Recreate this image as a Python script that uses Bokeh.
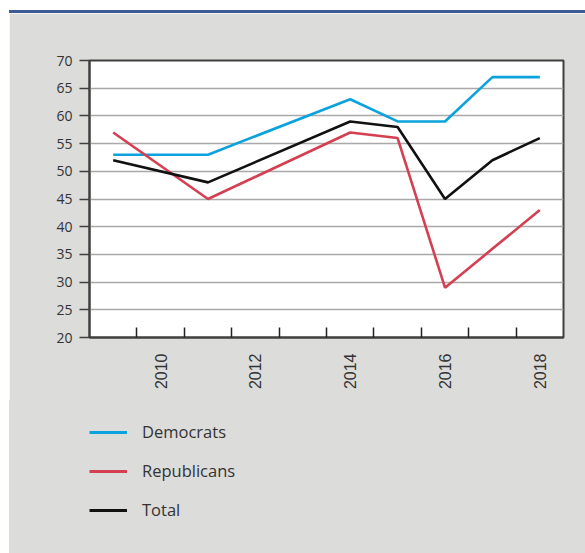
import math

from bokeh.embed import file_html
from bokeh.layouts import column
from bokeh.models import Div, FixedTicker, Legend, LegendItem, Range1d
from bokeh.plotting import figure
from bokeh.resources import INLINE

# Share of respondents (%) by party, per survey year
years = [2009, 2011, 2014, 2015, 2016, 2017, 2018]
democrats = [53, 53, 63, 59, 59, 67, 67]
republicans = [57, 45, 57, 56, 29, 36, 43]
total = [52, 48, 59, 58, 45, 52, 56]

series_names = ["Democrats", "Republicans", "Total"]
series_colors = ["#0ba2dd", "#d43f51", "#111111"]

label_years = [2010, 2012, 2014, 2016, 2018]
y_ticks = [20, 25, 30, 35, 40, 45, 50, 55, 60, 65, 70]

GRAY = "#dcdcdb"
AXIS = "#3f3f3f"
TEXT = "#333333"

# ---- main chart -------------------------------------------------------
p = figure(
    width=576, height=387,
    x_range=Range1d(2008.5, 2018.5),
    y_range=Range1d(20, 70),
    output_backend="svg",
    toolbar_location=None,
    min_border_left=80, min_border_right=22,
    min_border_top=47, min_border_bottom=63,
    background_fill_color="white",
    border_fill_color=GRAY,
    outline_line_color=AXIS,
    outline_line_width=2,
)
p.margin = (0, 0, 0, 9)

# x axis: year labels at category centres, small inward ticks at boundaries
xa = p.xaxis[0]
xa.ticker = FixedTicker(ticks=label_years,
                        minor_ticks=[y + 0.5 for y in range(2009, 2018)])
xa.major_tick_in = 0
xa.major_tick_out = 0
xa.minor_tick_in = 10
xa.minor_tick_out = 0
xa.minor_tick_line_color = "#222222"
xa.minor_tick_line_width = 1.5
xa.major_label_orientation = math.pi / 2
xa.major_label_standoff = 16
xa.major_label_text_font = "Liberation Sans"
xa.major_label_text_font_size = "16px"
xa.major_label_text_color = TEXT
xa.axis_line_color = AXIS
xa.axis_line_width = 2

ya = p.yaxis[0]
ya.ticker = FixedTicker(ticks=y_ticks)
ya.major_tick_in = 0
ya.major_tick_out = 10
ya.major_tick_line_color = AXIS
ya.major_tick_line_width = 1.5
ya.minor_tick_line_color = None
ya.major_label_standoff = 7
ya.major_label_text_font = "Open Sans"
ya.major_label_text_font_size = "14px"
ya.major_label_text_color = TEXT
ya.axis_line_color = AXIS
ya.axis_line_width = 2

p.xgrid.visible = False
p.ygrid.ticker = FixedTicker(ticks=y_ticks)
p.ygrid.grid_line_color = "#a9a9a9"
p.ygrid.grid_line_width = 1.5

for vals, color in zip([democrats, republicans, total], series_colors):
    p.line(years, vals, line_color=color, line_width=2.6)

# ---- legend panel below the chart ------------------------------------
lp = figure(
    width=576, height=153,
    output_backend="svg",
    toolbar_location=None,
    x_axis_type=None, y_axis_type=None,
    min_border=0,
    background_fill_alpha=0,
    border_fill_alpha=0,
    outline_line_color=None,
)
lp.margin = (0, 0, 0, 9)
lp.styles = {"background-color": GRAY}
lp.xgrid.visible = False
lp.ygrid.visible = False

items = []
for name, color in zip(series_names, series_colors):
    # single-point line: nothing drawn in the panel, only the legend swatch
    r = lp.line([0], [0], line_color=color, line_width=3)
    items.append(LegendItem(label=name, renderers=[r]))

legend = Legend(
    items=items,
    location=(0, 32),
    orientation="vertical",
    glyph_width=38, glyph_height=20,
    label_height=20, label_standoff=15,
    spacing=16, padding=0, margin=0,
    border_line_color=None,
    background_fill_alpha=0,
    label_text_font="Open Sans",
    label_text_font_size="16.5px",
    label_text_color=TEXT,
)
lp.add_layout(legend, "center")

top_bar = Div(width=576, height=3,
              styles={"background-color": "#3d5c97"})
top_bar.margin = (10, 0, 0, 9)

page = column(top_bar, p, lp, spacing=0)
open("out.html", "w").write(file_html(page, INLINE))
